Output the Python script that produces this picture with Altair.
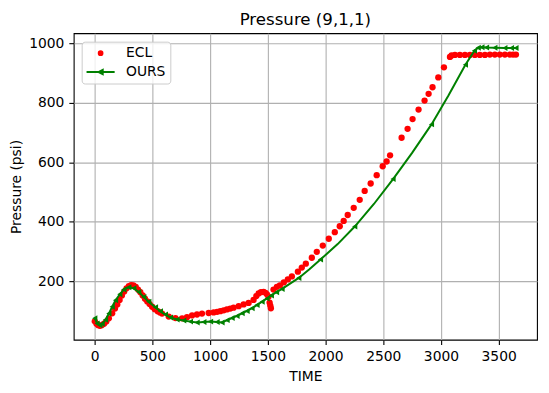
import altair as alt
import pandas as pd

# ---------------- data ----------------
ECL_T = [0, 15, 30, 45, 60, 80, 100, 122, 151, 175, 195, 215, 235, 255, 275, 295, 315, 335,
         355, 375, 395, 415, 435, 455, 475, 497, 520, 545, 565, 583, 641, 699, 757, 799, 843,
         886, 929, 987, 1030, 1060, 1088, 1117, 1145, 1174, 1203, 1247, 1290, 1333, 1376, 1400,
         1420, 1440, 1463, 1480, 1492, 1505, 1515, 1521, 1526, 1549, 1578, 1604, 1638, 1673,
         1708, 1760, 1794, 1829, 1881, 1924, 1976, 2028, 2080, 2123, 2157, 2192, 2244, 2296,
         2339, 2391, 2443, 2495, 2529, 2559, 2659, 2711, 2754, 2806, 2858, 2893, 2927, 2977,
         3026, 3078, 3092, 3121, 3164, 3208, 3251, 3294, 3337, 3381, 3424, 3467, 3510, 3554,
         3597, 3625, 3650]
ECL_P = [65, 57, 52, 50, 52, 57, 64, 75, 92, 108, 122, 137, 152, 165, 176, 183, 187, 186,
         181, 172, 163, 152, 141, 132, 123, 114, 106, 99, 95, 91, 81, 76, 75, 79, 85,
         88, 91, 93, 95, 97, 99, 102, 105, 108, 111, 116, 122, 127, 137, 150,
         159, 163, 164, 161, 156, 148, 128, 118, 109, 172, 181, 186, 196, 206,
         216, 232, 246, 259, 279, 299, 320, 343, 365, 385, 403, 423, 447, 474,
         504, 529, 557, 587, 603, 624, 683, 713, 746, 778, 808, 831, 853, 886,
         920, 955, 960, 962, 962, 962, 962, 962, 962, 962, 963, 963, 963, 963,
         963, 963, 963]

OURS_T = [0, 20, 44, 64, 93, 122, 151, 180, 217, 252, 295, 338, 381, 425, 468, 526, 569, 612,
          656, 713, 771, 829, 887, 945, 1003, 1060, 1103, 1147, 1190, 1233, 1277, 1320, 1363,
          1406, 1450, 1493, 1530, 1575, 1623, 1768, 1860, 1956, 2105, 2253, 2419, 2585, 2750,
          2918, 3065, 3212, 3290, 3323, 3355, 3395, 3467, 3554, 3611, 3650]
OURS_P = [75, 58, 52, 57, 70, 91, 114, 136, 156, 172, 180, 176, 164, 147, 131, 112, 99, 88,
          78, 71, 68, 64, 61, 63, 64, 63, 61, 69, 76, 83, 92, 100, 109,
          120, 131, 142, 152, 163, 174, 211, 240, 273, 325, 384, 460, 544, 632,
          728, 825, 929, 976, 986, 988, 987, 986, 985, 985, 985]
OURS_MARK = [1] * 39 + [1, 0, 1, 0, 1, 0, 1, 0, 1, 0, 1, 1, 1, 1, 1, 1, 1, 1, 1]

SERIES = ["ECL", "OURS"]
COLORS = ["#ff0000", "#008000"]
X_TICKS = [0, 500, 1000, 1500, 2000, 2500, 3000, 3500]
Y_TICKS = [200, 400, 600, 800, 1000]

ecl = pd.DataFrame({"TIME": ECL_T, "P": ECL_P, "series": "ECL"})
ours = pd.DataFrame({"TIME": OURS_T, "P": OURS_P, "series": "OURS", "marker": OURS_MARK})
legend_df = pd.DataFrame({"TIME": [0, 0], "P": [0, 0], "series": SERIES})

FONT = "DejaVu Sans"
FS = 13.9

xs = alt.Scale(domain=[-182.5, 3832.5], nice=False, zero=False)
ys = alt.Scale(domain=[3.1, 1034.9], nice=False, zero=False)

x_axis = alt.Axis(values=X_TICKS, format="d", title="TIME", titleY=41.2,
                  titleBaseline="alphabetic", labelBaseline="alphabetic",
                  labelPadding=16)
y_axis = alt.Axis(values=Y_TICKS, format="d", title="Pressure (psi)", titleX=-53,
                  titleY=153.9, titleBaseline="alphabetic", titleAngle=-90,
                  titleAlign="center", labelPadding=5)

X = alt.X("TIME:Q", scale=xs, axis=x_axis)
Y = alt.Y("P:Q", scale=ys, axis=y_axis)

ecl_pts = alt.Chart(ecl).mark_point(filled=True, shape="circle", size=40, color="#ff0000",
                                    opacity=1, strokeWidth=0).encode(x=X, y=Y)

ours_line = alt.Chart(ours).mark_line(color="#008000", strokeWidth=2.0).encode(
    x="TIME:Q", y="P:Q")

ours_pts = alt.Chart(ours).transform_filter("datum.marker == 1").mark_point(
    filled=True, shape="triangle-left", size=36, color="#008000", opacity=1,
    strokeWidth=0).encode(x="TIME:Q", y="P:Q")

ECL_PATH = "M0.3,0A0.3,0.3,0,1,1,-0.3,0A0.3,0.3,0,1,1,0.3,0Z"
OURS_PATH = "M-2.26,0L2.26,0M-0.34,0L0.34,-0.34L0.34,0.34Z"

leg = alt.Legend(title=None, orient="none", legendX=8, legendY=8.5, direction="vertical",
                 padding=4, rowPadding=4, symbolSize=156, symbolStrokeWidth=2,
                 symbolOffset=7.5, labelOffset=18, labelFontSize=FS, labelFont=FONT,
                 labelColor="black", fillColor="rgba(255,255,255,0.8)",
                 strokeColor="#cccccc", cornerRadius=3, symbolOpacity=1)

legend_layer = alt.Chart(legend_df).transform_filter("false").mark_point(
    filled=True, size=156, opacity=1, strokeWidth=2).encode(
    x="TIME:Q", y="P:Q",
    fill=alt.Fill("series:N", scale=alt.Scale(domain=SERIES, range=COLORS), legend=leg),
    stroke=alt.Stroke("series:N", scale=alt.Scale(domain=SERIES, range=COLORS), legend=leg),
    shape=alt.Shape("series:N", scale=alt.Scale(domain=SERIES, range=[ECL_PATH, OURS_PATH]),
                    legend=leg),
)

chart = alt.layer(ecl_pts, ours_line, ours_pts, legend_layer).properties(
    width=465.3, height=307.8,
    title=alt.TitleParams("Pressure (9,1,1)", fontSize=16.7, font=FONT, fontWeight="normal",
                          color="black", anchor="middle", offset=4.5),
    padding={"left": 66, "top": 24.5, "right": 4, "bottom": 55},
    autosize=alt.AutoSizeParams(type="none"),
).configure_view(stroke="black", strokeWidth=1.1).configure_axis(
    labelFont=FONT, labelFontSize=FS, labelColor="black", titleFont=FONT, titleFontSize=FS,
    titleFontWeight="normal", titleColor="black", tickSize=4.9, tickColor="black",
    tickWidth=1.1, domain=False, grid=True, gridColor="#b0b0b0", gridWidth=1.1,
    labelFlush=False, labelOverlap=False
)

chart.save("out.html", embed_options={"renderer": "svg", "actions": False})
